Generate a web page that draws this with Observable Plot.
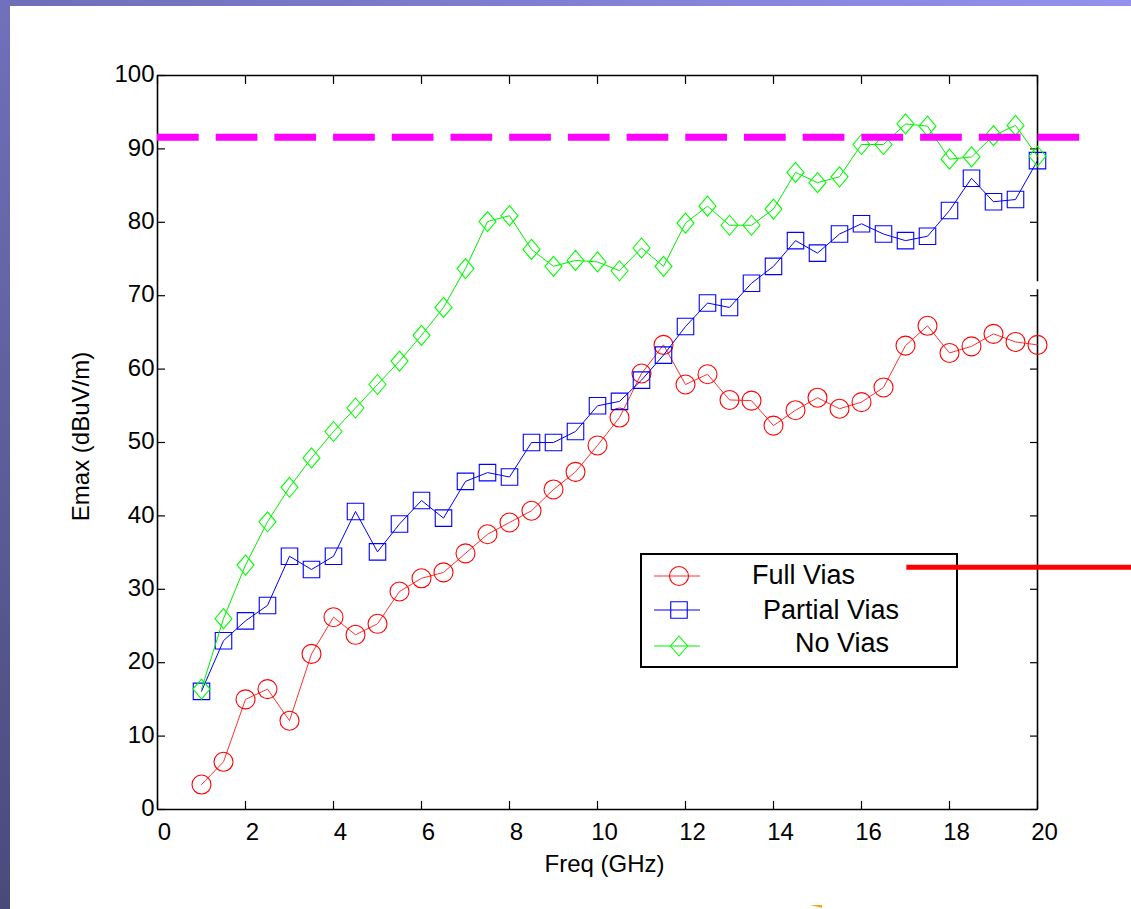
<!DOCTYPE html>
<html><head><meta charset="utf-8">
<script src="https://cdn.jsdelivr.net/npm/d3@7"></script>
<script src="https://cdn.jsdelivr.net/npm/@observablehq/plot@0.6"></script>
<style>
html,body{margin:0;padding:0;background:#fff;}
#wrap{position:relative;width:1131px;height:909px;overflow:hidden;font-family:"Liberation Sans",Arial,sans-serif;}
#topbar{position:absolute;left:0;top:0;width:1131px;height:6px;background:linear-gradient(to right,#6e6eb8,#9292ee);}
#leftbar{position:absolute;left:0;top:0;width:10px;height:909px;background:linear-gradient(to bottom,#7070bc,#4a4a7a);}
#legend{position:absolute;left:640px;top:553px;width:314px;height:111px;border:2px solid #000;}
#legend svg{display:block;}
#chart{position:absolute;left:0;top:0;}
#blip{position:absolute;left:810px;top:905px;width:0;height:0;border-left:12px solid transparent;border-top:3px solid #ffa020;}
</style></head>
<body><div id="wrap"><div id="topbar"></div><div id="leftbar"></div><div id="legend"></div><div id="chart"></div><div id="blip"></div></div>
<script>
// ---- data ----
const freq = [1, 1.5, 2, 2.5, 3, 3.5, 4, 4.5, 5, 5.5, 6, 6.5, 7, 7.5, 8, 8.5, 9, 9.5, 10, 10.5,
              11, 11.5, 12, 12.5, 13, 13.5, 14, 14.5, 15, 15.5, 16, 16.5, 17, 17.5, 18, 18.5, 19, 19.5, 20];
const fullVias = [3.4, 6.5, 15.0, 16.4, 12.1, 21.2, 26.2, 23.8, 25.3, 29.7, 31.5, 32.3, 34.9, 37.5, 39.1, 40.7, 43.6, 46.0, 49.6, 53.4,
                  59.4, 63.3, 57.9, 59.3, 55.8, 55.7, 52.3, 54.4, 56.1, 54.6, 55.5, 57.5, 63.2, 65.9, 62.2, 63.1, 64.8, 63.7, 63.3];
const partialVias = [16.1, 23.0, 25.7, 27.8, 34.5, 32.7, 34.5, 40.6, 35.1, 38.9, 42.1, 39.7, 44.7, 45.9, 45.3, 50.0, 50.0, 51.5, 55.0, 55.6,
                     58.5, 61.9, 65.8, 69.0, 68.4, 71.7, 74.0, 77.5, 75.8, 78.4, 79.8, 78.4, 77.5, 78.1, 81.6, 86.0, 82.8, 83.1, 88.4];
const noVias = [16.4, 26.0, 33.3, 39.2, 43.9, 47.9, 51.5, 54.7, 57.9, 61.1, 64.6, 68.4, 73.7, 80.1, 80.9, 76.3, 74.0, 74.8, 74.6, 73.4,
                76.5, 74.0, 79.9, 82.2, 79.6, 79.6, 81.8, 86.8, 85.4, 86.2, 90.6, 90.6, 93.4, 93.1, 88.6, 88.9, 91.8, 93.2, 89.0];
const seriesNames = ["Full Vias", "Partial Vias", "No Vias"];
const xTicks = [0, 2, 4, 6, 8, 10, 12, 14, 16, 18, 20];
const yTicks = [0, 10, 20, 30, 40, 50, 60, 70, 80, 90, 100];
const limitLevel = 91.6;          // magenta dashed limit line (dBuV/m)
const limitSpan = [0, 21.0];      // GHz extent of that line
const pointerLevel = 33.0;        // red annotation line
const pointerSpan = [17.03, 22.3];
const rightSpineSegs = [{y1: 0, y2: 70.8}, {y1: 71.9, y2: 100}];

// ---- styles ----
const colors = ["#ff0000", "#0000ff", "#00ff00"];
const lineColors = ["#ff3030", "#0000ff", "#00ee00"];
const circleSym = {draw(c){ c.moveTo(9.5,0); c.arc(0,0,9.5,0,2*Math.PI); }};
const squareSym = {draw(c){ c.rect(-8.25,-8.25,16.5,16.5); }};
const diamondSym = {draw(c){ c.moveTo(0,-10); c.lineTo(8.5,0); c.lineTo(0,10); c.lineTo(-8.5,0); c.closePath(); }};
const symbols = [circleSym, squareSym, diamondSym];
const valuesBySeries = [fullVias, partialVias, noVias];

const rows = seriesNames.map((name, s) => freq.map((f, i) => ({name, f, v: valuesBySeries[s][i]})));

const marks = [];
rows.forEach((data, s) => {
  marks.push(Plot.line(data, {x: "f", y: "v", stroke: lineColors[s], strokeWidth: 1}));
  marks.push(Plot.dot(data, {x: "f", y: "v", symbol: symbols[s], stroke: colors[s], fill: "none", strokeWidth: 1.1}));
});

const font = "'Liberation Sans', Arial, sans-serif";
const plot = Plot.plot({
  width: 1131, height: 909,
  marginLeft: 157, marginRight: 94, marginTop: 75, marginBottom: 100,
  x: {domain: [0, 20]},
  y: {domain: [0, 100]},
  style: {background: "transparent", fontFamily: font, color: "black", overflow: "visible"},
  marks: [
    // tick labels
    Plot.axisX({anchor: "bottom", ticks: xTicks, tickSize: 0, tickPadding: 13, dx: 7, fontSize: 24, label: null, tickFormat: d => String(d)}),
    Plot.axisY({anchor: "left", ticks: yTicks, tickSize: 0, tickPadding: 3, dy: -1, fontSize: 24, label: null, tickFormat: d => String(d)}),
    // inward ticks
    Plot.axisX({anchor: "bottom", ticks: xTicks, tickSize: -8, tickFormat: () => "", label: null, strokeWidth: 1.2}),
    Plot.axisX({anchor: "top", ticks: xTicks, tickSize: -8, tickFormat: () => "", label: null, strokeWidth: 1.2}),
    Plot.axisY({anchor: "left", ticks: yTicks, tickSize: -8, tickFormat: () => "", label: null, strokeWidth: 1.2}),
    Plot.axisY({anchor: "right", ticks: yTicks, tickSize: -8, tickFormat: () => "", label: null, strokeWidth: 1.2}),
    // box
    Plot.ruleY([0, 100], {stroke: "black", strokeWidth: 1.6}),
    Plot.ruleX([0], {stroke: "black", strokeWidth: 1.6}),
    Plot.ruleX(rightSpineSegs, {x: 20, y1: "y1", y2: "y2", stroke: "black", strokeWidth: 1.6}),
    // axis titles
    Plot.text(["Freq (GHz)"], {frameAnchor: "bottom", dx: 7, dy: 55, lineAnchor: "middle", textAnchor: "middle", fontSize: 24}),
    Plot.text(["Emax (dBuV/m)"], {frameAnchor: "left", rotate: -90, dx: -76, dy: -6, lineAnchor: "middle", textAnchor: "middle", fontSize: 24}),
    ...marks,
    // annotations
    Plot.ruleY([limitLevel], {x1: limitSpan[0], x2: limitSpan[1], stroke: "#ff00ff", strokeWidth: 7, strokeDasharray: "41.7,17"}),
    Plot.ruleY([pointerLevel], {x1: pointerSpan[0], x2: pointerSpan[1], stroke: "#ff0000", strokeWidth: 5})
  ]
});
document.getElementById("chart").appendChild(plot);

// ---- legend ----
const leg = d3.select("#legend").append("svg").attr("width", 314).attr("height", 111);
const rowY = [21, 55, 91];
const textX = [110, 121, 153];
const baseY = [29, 64, 97];
seriesNames.forEach((name, s) => {
  leg.append("line").attr("x1", 12).attr("x2", 58).attr("y1", rowY[s]).attr("y2", rowY[s])
     .attr("stroke", lineColors[s]).attr("stroke-width", 1);
  const p = d3.path(); symbols[s].draw(p);
  leg.append("path").attr("d", p.toString()).attr("transform", `translate(37,${rowY[s]})`)
     .attr("fill", "none").attr("stroke", colors[s]).attr("stroke-width", 1.1);
  leg.append("text").attr("x", textX[s]).attr("y", baseY[s]).attr("font-size", 27)
     .attr("font-family", font).attr("fill", "black").text(name);
});
</script>
</body></html>
